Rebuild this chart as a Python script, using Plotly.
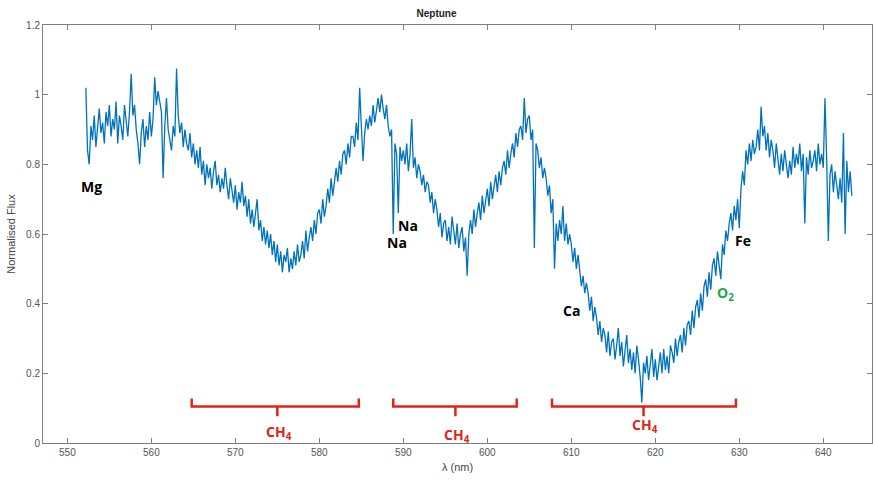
import numpy as np
import plotly.graph_objects as go

# Neptune reflectance spectrum, sampled every 0.2 nm from 552.2 nm
wl_start = 552.2
wl_step = 0.2
flux = [
    1.02, 0.84, 0.80, 0.91,
    0.87, 0.94, 0.85, 0.90, 0.96,
    0.89, 0.92, 0.86, 0.95, 0.91,
    0.97, 0.88, 0.93, 0.90, 0.98,
    0.86, 0.94, 0.91, 0.87, 0.97,
    0.92, 0.88, 0.95, 1.06, 0.94,
    0.97, 0.90, 0.86, 0.80, 0.89,
    0.93, 0.85, 0.91, 0.87, 0.95,
    0.88, 0.93, 1.05, 0.97, 1.01,
    0.98, 0.95, 0.76, 0.91, 0.99,
    0.90, 0.87, 0.84, 0.91, 0.88,
    1.075, 0.94, 0.89, 0.92, 0.85,
    0.90, 0.86, 0.84, 0.89, 0.82,
    0.86, 0.80, 0.84, 0.79, 0.85,
    0.77, 0.81, 0.74, 0.80, 0.76,
    0.79, 0.73, 0.78, 0.81, 0.74,
    0.77, 0.72, 0.76, 0.73, 0.79,
    0.74, 0.70, 0.76, 0.72, 0.69,
    0.74, 0.67, 0.72, 0.69, 0.75,
    0.68, 0.71, 0.65, 0.70, 0.63,
    0.67, 0.62, 0.66, 0.70, 0.61,
    0.64, 0.58, 0.62, 0.57, 0.61,
    0.56, 0.60, 0.54, 0.58, 0.52,
    0.57, 0.51, 0.55, 0.49, 0.54,
    0.52, 0.56, 0.49, 0.53, 0.50,
    0.55, 0.51, 0.57, 0.52, 0.54,
    0.58, 0.53, 0.61, 0.55, 0.59,
    0.62, 0.58, 0.64, 0.60, 0.66,
    0.67, 0.63, 0.70, 0.65, 0.68,
    0.73, 0.69, 0.76, 0.71, 0.75,
    0.79, 0.75, 0.81, 0.77, 0.83,
    0.84, 0.80, 0.86, 0.82, 0.88,
    0.88, 0.85, 0.92, 0.87, 1.02,
    0.91, 0.81, 0.89, 0.93, 0.90,
    0.94, 0.91, 0.97, 0.92, 0.95,
    0.99, 0.95, 1.00, 0.96, 0.93,
    0.97, 0.91, 0.88, 0.90, 0.60,
    0.86, 0.83, 0.66, 0.85, 0.81,
    0.84, 0.80, 0.86, 0.78, 0.83,
    0.93, 0.79, 0.82, 0.76, 0.80,
    0.78, 0.74, 0.77, 0.72, 0.75,
    0.74, 0.69, 0.72, 0.66, 0.70,
    0.67, 0.62, 0.66, 0.59, 0.63,
    0.64, 0.58, 0.62, 0.57, 0.65,
    0.61, 0.57, 0.63, 0.56, 0.60,
    0.62, 0.55, 0.59, 0.48, 0.60,
    0.64, 0.60, 0.67, 0.62, 0.66,
    0.69, 0.64, 0.71, 0.66, 0.70,
    0.73, 0.68, 0.75, 0.70, 0.74,
    0.77, 0.72, 0.78, 0.74, 0.79,
    0.81, 0.77, 0.84, 0.79, 0.83,
    0.86, 0.82, 0.89, 0.85, 0.90,
    0.91, 0.87, 0.99, 0.89, 0.93,
    0.94, 0.87, 0.90, 0.56, 0.86,
    0.84, 0.79, 0.82, 0.76, 0.79,
    0.76, 0.71, 0.74, 0.66, 0.70,
    0.50, 0.63, 0.58, 0.64, 0.60,
    0.68, 0.58, 0.63, 0.57, 0.60,
    0.57, 0.52, 0.56, 0.50, 0.54,
    0.50, 0.45, 0.48, 0.43, 0.46,
    0.43, 0.38, 0.42, 0.35, 0.39,
    0.36, 0.31, 0.35, 0.29, 0.33,
    0.31, 0.26, 0.32, 0.25, 0.29,
    0.30, 0.24, 0.28, 0.33, 0.25,
    0.29, 0.22, 0.27, 0.31, 0.23,
    0.27, 0.21, 0.26, 0.20, 0.28,
    0.24, 0.19, 0.116, 0.23, 0.20,
    0.25, 0.18, 0.23, 0.27, 0.19,
    0.24, 0.18, 0.22, 0.26, 0.20,
    0.27, 0.21, 0.25, 0.20, 0.28,
    0.26, 0.23, 0.30, 0.25, 0.29,
    0.31, 0.26, 0.33, 0.28, 0.34,
    0.35, 0.31, 0.38, 0.33, 0.39,
    0.41, 0.36, 0.43, 0.38, 0.45,
    0.47, 0.42, 0.49, 0.44, 0.51,
    0.53, 0.48, 0.55, 0.51, 0.47,
    0.57, 0.54, 0.61, 0.58, 0.63,
    0.66, 0.61, 0.68, 0.64, 0.70,
    0.617, 0.73, 0.78, 0.74, 0.84,
    0.80, 0.86, 0.81, 0.87, 0.83,
    0.85, 0.90, 0.84, 0.965, 0.88,
    0.91, 0.84, 0.89, 0.82, 0.87,
    0.84, 0.79, 0.86, 0.81, 0.77,
    0.83, 0.78, 0.84, 0.80, 0.76,
    0.81, 0.77, 0.85, 0.79, 0.83,
    0.80, 0.86, 0.78, 0.83, 0.63,
    0.82, 0.77, 0.84, 0.79, 0.81,
    0.84, 0.78, 0.86, 0.80, 0.83,
    0.79, 0.99, 0.82, 0.58, 0.77,
    0.80, 0.72, 0.78, 0.74, 0.70,
    0.76, 0.69, 0.89, 0.60, 0.81,
    0.72, 0.78, 0.71,
]
wavelength = np.round(wl_start + wl_step * np.arange(len(flux)), 2)

# Element line labels: text, wavelength, flux position
line_labels = ["Mg", "Na", "Na", "Ca", "Fe"]
line_x = [552.9, 590.6, 589.2, 610.0, 630.4]
line_y = [0.735, 0.625, 0.575, 0.38, 0.58]

o2_label = "O<sub>2</sub>"
o2_x = 628.3
o2_y = 0.428

# Methane absorption bands: start, end, centre (nm)
band_start = [564.8, 588.8, 607.7]
band_end = [584.7, 603.5, 629.6]
band_centre = [575.0, 596.2, 618.6]
band_label_y = [0.03, 0.021, 0.049]
band_level = 0.105
band_cap = 0.128
band_tip = 0.077

x_ticks = [550, 560, 570, 580, 590, 600, 610, 620, 630, 640]
y_ticks = [0, 0.2, 0.4, 0.6, 0.8, 1.0, 1.2]
y_tick_text = ["0", "0.2", "0.4", "0.6", "0.8", "1", "1.2"]

RED = "#e2231a"
BLUE = "#0072bd"

fig = go.Figure()
fig.add_trace(go.Scatter(
    x=wavelength, y=flux, mode="lines",
    line=dict(color=BLUE, width=1.3), hoverinfo="x+y", showlegend=False,
))

for s, e, c in zip(band_start, band_end, band_centre):
    fig.add_trace(go.Scatter(
        x=[s, s, c, c, c, e, e],
        y=[band_cap, band_level, band_level, band_tip, band_level, band_level, band_cap],
        mode="lines", line=dict(color=RED, width=2.5),
        hoverinfo="skip", showlegend=False,
    ))

label_font = dict(family="Open Sans, Lato, sans-serif", size=14, color="black")
for t, x, y in zip(line_labels, line_x, line_y):
    fig.add_annotation(x=x, y=y, text=f"<b>{t}</b>", showarrow=False, font=label_font)

fig.add_annotation(x=o2_x, y=o2_y, text=f"<b>{o2_label}</b>", showarrow=False,
                   font=dict(family="Open Sans, Lato, sans-serif", size=14, color="#1fa64a"))

for c, y in zip(band_centre, band_label_y):
    fig.add_annotation(x=c + 0.2, y=y, text="<b>CH<sub>4</sub></b>", showarrow=False,
                       font=dict(family="Open Sans, Lato, sans-serif", size=14, color=RED))

axis_common = dict(
    showline=True, linecolor="#7f7f7f", linewidth=1, mirror="ticks",
    ticks="inside", ticklen=5, tickcolor="#7f7f7f", showgrid=False, zeroline=False,
    tickfont=dict(family="Liberation Sans, Arial, sans-serif", size=10, color="#555555"),
)

fig.update_layout(
    width=873, height=481,
    margin=dict(l=43, r=1, t=25, b=38),
    paper_bgcolor="white", plot_bgcolor="white",
    title=dict(text="<b>Neptune</b>", x=0.5, xanchor="center", y=0.972, yanchor="middle",
               font=dict(family="Liberation Sans, Arial, sans-serif", size=10, color="#222222")),
    xaxis=dict(range=[547.1, 645.8], tickvals=x_ticks,
               title=dict(text="λ (nm)", standoff=6,
                          font=dict(family="Liberation Sans, Arial, sans-serif", size=11, color="#444444")),
               **axis_common),
    yaxis=dict(range=[0, 1.2], tickvals=y_ticks, ticktext=y_tick_text,
               title=dict(text="Normalised Flux", standoff=8,
                          font=dict(family="Liberation Sans, Arial, sans-serif", size=11, color="#444444")),
               **axis_common),
)

fig.write_html("out.html")
